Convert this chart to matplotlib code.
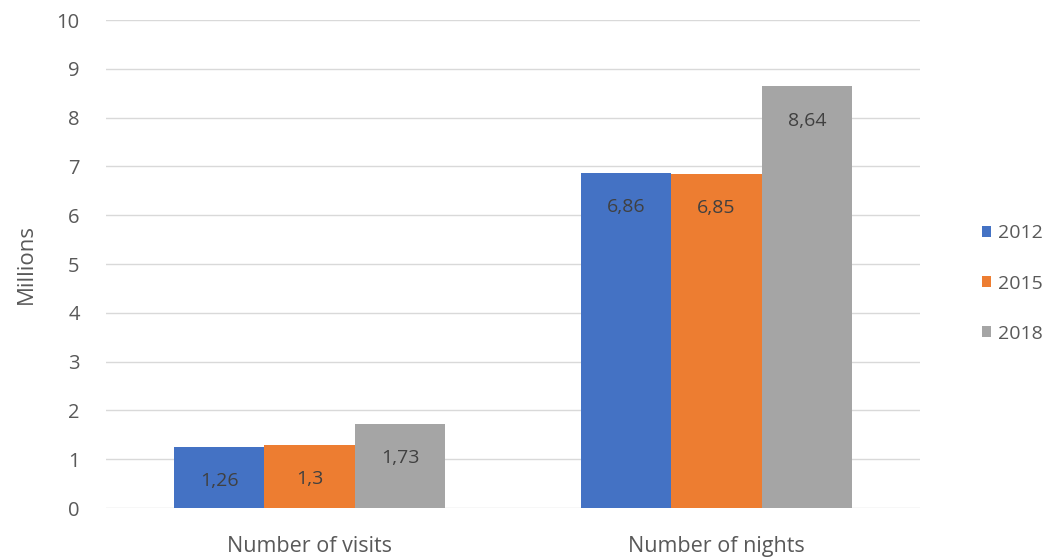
import matplotlib.pyplot as plt
import numpy as np

plt.rcParams['font.family'] = ['Open Sans', 'DejaVu Sans']

categories = ['Number of visits', 'Number of nights']
years = ['2012', '2015', '2018']
values = {
    '2012': [1.26, 6.86],
    '2015': [1.30, 6.85],
    '2018': [1.73, 8.64],
}
colors = ['#4472C4', '#ED7D31', '#A5A5A5']

fig = plt.figure(figsize=(10.51, 5.59), dpi=100)
ax = fig.add_axes([0.1009, 0.0912, 0.7745, 0.873])

x = np.arange(len(categories))
w = 0.222
for i, yr in enumerate(years):
    pos = x + (i - 1) * w
    bars = ax.bar(pos, values[yr], width=w, color=colors[i], label=yr, zorder=2)
    for b, v in zip(bars, values[yr]):
        txt = ('%g' % v).replace('.', ',')
        ax.text(b.get_x() + b.get_width() / 2, v - 0.7, txt, ha='center', va='center',
                fontsize=14, color='#404040', zorder=3)

ax.set_xlim(-0.5, 1.5)
ax.set_ylim(0, 10)
ax.set_yticks(range(0, 11))
ax.set_xticks(x)
ax.set_xticklabels(categories, fontsize=15.5)
ax.grid(axis='y', color='#d9d9d9', linewidth=1, zorder=0)
for s in ax.spines.values():
    s.set_visible(False)
ax.tick_params(axis='both', length=0, colors='#595959')
ax.tick_params(axis='y', pad=19, labelsize=14.5)
ax.tick_params(axis='x', pad=20)
ax.set_ylabel('Millions', fontsize=16, color='#595959', labelpad=14)

leg = ax.legend(loc='center left', bbox_to_anchor=(1.055, 0.46), frameon=False,
                fontsize=14, labelcolor='#595959', handlelength=0.45, handleheight=0.45,
                handletextpad=0.35, labelspacing=1.65)

fig.savefig('out.png', dpi=100)
